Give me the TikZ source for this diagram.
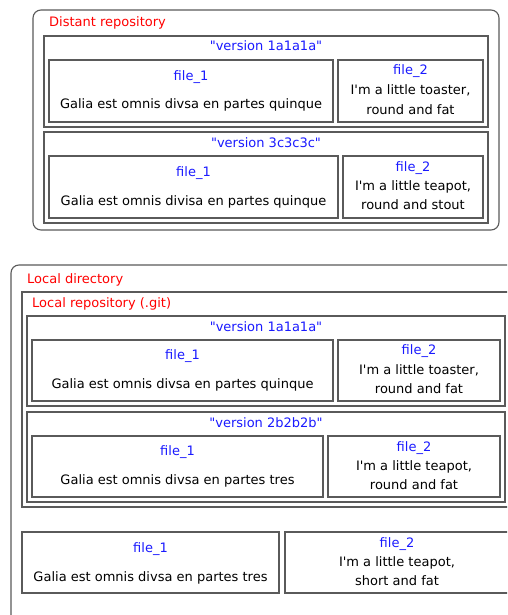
\documentclass[tikz,border=0pt]{standalone}
\usepackage{fontspec}
\setmainfont{DejaVu Sans}
\usetikzlibrary{calc}
\definecolor{boxgray}{HTML}{5A5A5A}
\definecolor{ttlblue}{HTML}{1A1AFF}
\newcommand{\dq}{\textquotedbl}
\newcommand{\sq}{\textquotesingle}
\tikzset{
  box/.style={draw=boxgray, line width=1.1pt, inner sep=0pt, outer sep=0pt, anchor=north west},
  outerbox/.style={box, rounded corners=8pt},
  lbl/.style={text=red, anchor=base west, inner sep=0pt, font=\fontsize{13}{15}\selectfont},
  ttl/.style={text=ttlblue, anchor=base, inner sep=0pt, font=\fontsize{13}{15}\selectfont},
  txt/.style={text=black, anchor=base, inner sep=0pt, font=\fontsize{13}{15}\selectfont},
}
\begin{document}
\begin{tikzpicture}[x=1pt,y=-1pt]
\clip (0,0) rectangle (507,615);
\fill[white] (0,0) rectangle (507,615);
% Distant repository
\node[outerbox, minimum width=466pt, minimum height=220pt] (dist) at (33,10) {};
\node[lbl] (distl) at (49,27) {Distant repository};
\node[box, minimum width=444pt, minimum height=91pt] (d1) at (44,36) {};
\node[ttl] (d1t) at (266,51) {\dq version 1a1a1a\dq};
\node[box, minimum width=284pt, minimum height=62pt] (d1f1) at (49,60) {};
\node[ttl] (d1f1t) at (191,81) {file\_1};
\node[txt] (d1f1x) at (191,109) {Galia est omnis divsa en partes quinque};
\node[box, minimum width=145pt, minimum height=62pt] (d1f2) at (338,60) {};
\node[ttl] (d1f2t) at (410.5,75) {file\_2};
\node[txt] (d1f2a) at (410.5,95) {I\sq m a little toaster,};
\node[txt] (d1f2b) at (410.5,114) {round and fat};
\node[box, minimum width=444pt, minimum height=91pt] (d2) at (44,132) {};
\node[ttl] (d2t) at (266,147) {\dq version 3c3c3c\dq};
\node[box, minimum width=289pt, minimum height=62pt] (d2f1) at (49,156) {};
\node[ttl] (d2f1t) at (193.5,176) {file\_1};
\node[txt] (d2f1x) at (193.5,205) {Galia est omnis divisa en partes quinque};
\node[box, minimum width=140pt, minimum height=62pt] (d2f2) at (343,156) {};
\node[ttl] (d2f2t) at (413,171) {file\_2};
\node[txt] (d2f2a) at (413,190) {I\sq m a little teapot,};
\node[txt] (d2f2b) at (413,209) {round and stout};
% Local directory
\node[outerbox, minimum width=540pt, minimum height=380pt] (loc) at (11,265) {};
\node[lbl] (locl) at (27,283) {Local directory};
\node[box, minimum width=520pt, minimum height=215pt] (repo) at (22,292) {};
\node[lbl] (repol) at (32,307) {Local repository (.git)};
\node[box, minimum width=478pt, minimum height=90pt] (l1) at (27,316) {};
\node[ttl] (l1t) at (266,331) {\dq version 1a1a1a\dq};
\node[box, minimum width=301pt, minimum height=61pt] (l1f1) at (32,340) {};
\node[ttl] (l1f1t) at (182.5,359) {file\_1};
\node[txt] (l1f1x) at (182.5,388) {Galia est omnis divsa en partes quinque};
\node[box, minimum width=162pt, minimum height=61pt] (l1f2) at (338,340) {};
\node[ttl] (l1f2t) at (419,354) {file\_2};
\node[txt] (l1f2a) at (419,374) {I\sq m a little toaster,};
\node[txt] (l1f2b) at (419,393) {round and fat};
\node[box, minimum width=478pt, minimum height=90pt] (l2) at (27,412) {};
\node[ttl] (l2t) at (266,427) {\dq version 2b2b2b\dq};
\node[box, minimum width=291pt, minimum height=61pt] (l2f1) at (32,436) {};
\node[ttl] (l2f1t) at (177.5,455) {file\_1};
\node[txt] (l2f1x) at (177.5,484) {Galia est omnis divsa en partes tres};
\node[box, minimum width=172pt, minimum height=61pt] (l2f2) at (328,436) {};
\node[ttl] (l2f2t) at (414,451) {file\_2};
\node[txt] (l2f2a) at (414,470) {I\sq m a little teapot,};
\node[txt] (l2f2b) at (414,489) {round and fat};
% Working files
\node[box, minimum width=257pt, minimum height=61pt] (b1) at (22,532) {};
\node[ttl] (b1t) at (150.5,552) {file\_1};
\node[txt] (b1x) at (150.5,581) {Galia est omnis divsa en partes tres};
\node[box, minimum width=240pt, minimum height=61pt] (b2) at (285,532) {};
\node[ttl] (b2t) at (397,547) {file\_2};
\node[txt] (b2a) at (397,566) {I\sq m a little teapot,};
\node[txt] (b2b) at (397,585) {short and fat};
\end{tikzpicture}
\end{document}
